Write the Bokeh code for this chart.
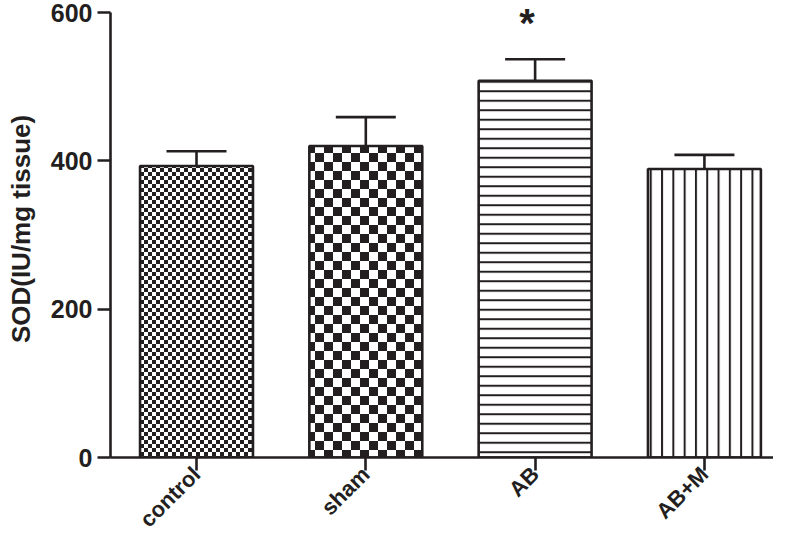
import base64, struct, zlib
from bokeh.plotting import figure
from bokeh.models import (ColumnDataSource, Range1d, FixedTicker, Whisker, TeeHead,
                          ImageURLTexture)
from bokeh.core.properties import value
from bokeh.embed import file_html
from bokeh.resources import INLINE

# ---- data ----
groups = ["control", "sham", "AB", "AB+M"]
means = [393, 420, 508, 389]
sems = [20, 39, 29, 19]
y_ticks = [0, 200, 400, 600]
significant = ["", "", "*", ""]
y_label = "SOD(IU/mg tissue)"

INK = "#231f20"


def checker_png(cell, fg=(35, 31, 32)):
    n = cell * 2
    raw = b""
    for yy in range(n):
        row = bytearray([0])
        for xx in range(n):
            dark = ((xx // cell) + (yy // cell)) % 2 == 0
            row += bytes(fg if dark else (255, 255, 255))
        raw += bytes(row)

    def chunk(t, d):
        return (struct.pack(">I", len(d)) + t + d +
                struct.pack(">I", zlib.crc32(t + d) & 0xffffffff))

    png = (b"\x89PNG\r\n\x1a\n" +
           chunk(b"IHDR", struct.pack(">IIBBBBB", n, n, 8, 2, 0, 0, 0)) +
           chunk(b"IDAT", zlib.compress(raw)) + chunk(b"IEND", b""))
    return "data:image/png;base64," + base64.b64encode(png).decode()


patterns = ["fine", "coarse", "horizontal_line", "vertical_line"]
pattern_scales = [8, 18, 9.5, 11.3]

xs = list(range(len(groups)))
src = ColumnDataSource(dict(
    x=xs, top=means, upper=[m + s for m, s in zip(means, sems)],
    hatch=patterns, hscale=pattern_scales,
))

Y_TOP = 616.2
p = figure(width=773, height=543, output_backend="svg", toolbar_location=None,
           x_range=Range1d(-0.508, 3.408), y_range=Range1d(0, Y_TOP),
           min_border_left=110, min_border_right=0, min_border_top=0,
           min_border_bottom=86)
p.outline_line_color = None
p.xgrid.visible = False
p.ygrid.visible = False
p.background_fill_color = "white"

p.vbar(x="x", top="top", width=0.667, source=src, fill_color="white",
       line_color=INK, line_width=2.6,
       hatch_pattern="hatch", hatch_scale="hscale", hatch_weight=2,
       hatch_color=INK,
       hatch_extra={"fine": ImageURLTexture(url=checker_png(4)),
                    "coarse": ImageURLTexture(url=checker_png(9))})

w = Whisker(source=src, base="x", lower="top", upper="upper",
            line_color=INK, line_width=2.6,
            upper_head=TeeHead(size=60, line_color=INK, line_width=2.6),
            lower_head=None)
p.add_layout(w)

# significance mark
star_src = ColumnDataSource(dict(x=xs, y=[Y_TOP] * len(xs), t=significant))
p.text(x="x", y="y", text="t", source=star_src, text_align="center",
       text_baseline="top", text_font=value("Liberation Sans"),
       text_font_style="bold", text_font_size="40px", text_color=INK,
       x_offset=-8)

# axes
xa = p.xaxis[0]
xa.ticker = FixedTicker(ticks=xs)
xa.major_label_overrides = {i: g for i, g in enumerate(groups)}
xa.major_label_orientation = 0.7854
xa.major_label_text_font = "Liberation Sans"
xa.major_label_text_font_style = "bold"
xa.major_label_text_font_size = "22px"
xa.major_label_text_color = INK
xa.major_label_standoff = 0
xa.major_tick_in = 0
xa.major_tick_out = 13
xa.major_tick_line_width = 2.6
xa.major_tick_line_color = INK
xa.minor_tick_line_color = None
xa.axis_line_width = 2.6
xa.axis_line_color = INK

ya = p.yaxis[0]
ya.ticker = FixedTicker(ticks=y_ticks)
ya.bounds = (0, 600)
ya.axis_label = y_label
ya.axis_label_text_font = "Liberation Sans"
ya.axis_label_text_font_style = "bold"
ya.axis_label_text_font_size = "26px"
ya.axis_label_text_color = INK
ya.axis_label_standoff = 12
ya.major_label_text_font = "Liberation Sans"
ya.major_label_text_font_style = "bold"
ya.major_label_text_font_size = "25px"
ya.major_label_text_color = INK
ya.major_label_standoff = 5
ya.major_tick_in = 0
ya.major_tick_out = 13
ya.major_tick_line_width = 2.6
ya.major_tick_line_color = INK
ya.minor_tick_line_color = None
ya.axis_line_width = 2.6
ya.axis_line_color = INK

open("out.html", "w").write(file_html(p, INLINE))
